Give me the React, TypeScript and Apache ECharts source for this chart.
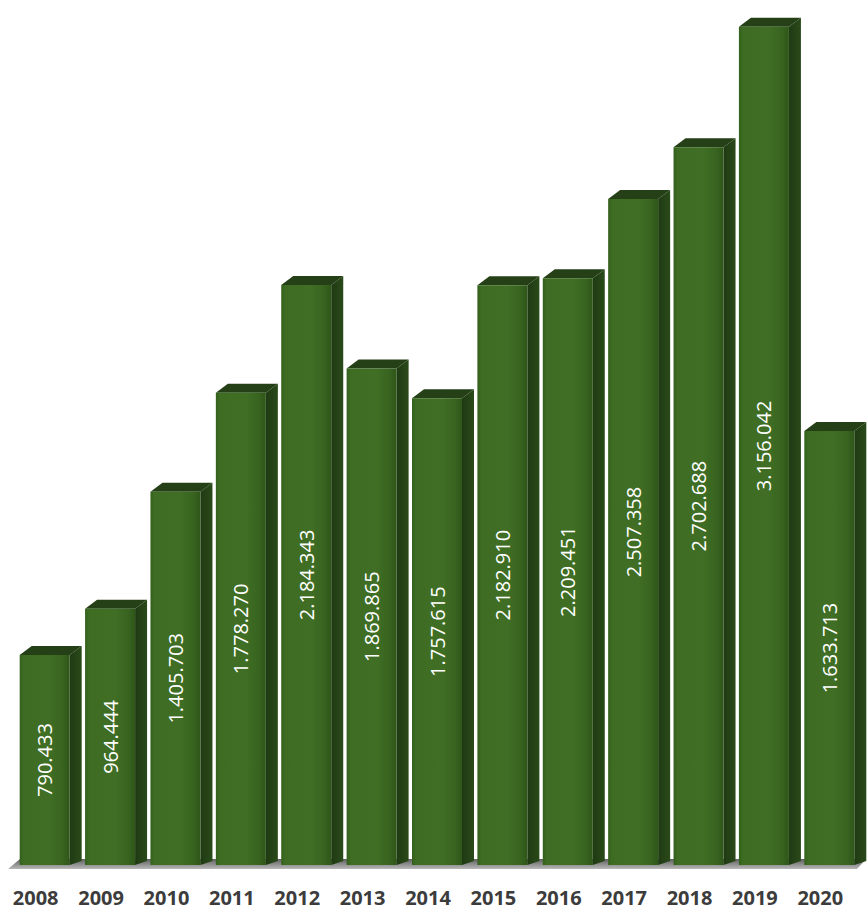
import React, { useEffect, useRef } from "react";
import * as echarts from "echarts";

const years = ["2008", "2009", "2010", "2011", "2012", "2013", "2014", "2015", "2016", "2017", "2018", "2019", "2020"];
const values = [790433, 964444, 1405703, 1778270, 2184343, 1869865, 1757615, 2182910, 2209451, 2507358, 2702688, 3156042, 1633713];

function fmt(v: number): string {
  const s = String(Math.round(v));
  let out = "";
  for (let i = 0; i < s.length; i++) {
    const fromEnd = s.length - i;
    out += s[i];
    if (fromEnd > 1 && (fromEnd - 1) % 3 === 0) out += ".";
  }
  return out;
}

export default function App() {
  const ref = useRef<HTMLDivElement>(null);
  useEffect(() => {
    if (!ref.current) return;
    const chart = echarts.init(ref.current, undefined, { renderer: "svg" });
    const frontW = 50;
    const dx = 12;
    const dy = 9;
    const renderItem = (params: any, api: any) => {
      const idx = api.value(0);
      const val = api.value(1);
      const c = api.coord([idx, val]);
      const b = api.coord([idx, 0]);
      const x0 = c[0] - 16;
      const top = c[1];
      const bottom = b[1];
      return {
        type: "group",
        children: [
          {
            type: "polygon",
            shape: {
              points: [
                [x0 + frontW, top],
                [x0 + frontW + dx, top - dy],
                [x0 + frontW + dx, bottom - 4],
                [x0 + frontW, bottom],
              ],
            },
            style: {
              fill: new echarts.graphic.LinearGradient(0, 0, 1, 0, [
                { offset: 0, color: "#1f3a13" },
                { offset: 1, color: "#2a4a1a" },
              ]),
            },
          },
          {
            type: "polygon",
            shape: {
              points: [
                [x0, top],
                [x0 + dx, top - dy],
                [x0 + frontW + dx, top - dy],
                [x0 + frontW, top],
              ],
            },
            style: { fill: "#253f17" },
          },
          {
            type: "rect",
            shape: { x: x0, y: top, width: frontW, height: bottom - top },
            style: {
              fill: new echarts.graphic.LinearGradient(0, 0, 1, 0, [
                { offset: 0, color: "#33601c" },
                { offset: 0.08, color: "#3d6c22" },
                { offset: 0.6, color: "#3f6e24" },
                { offset: 0.85, color: "#386420" },
                { offset: 1, color: "#2f5619" },
              ]),
            },
          },
          {
            type: "text",
            x: x0 + frontW / 2,
            y: (top + bottom) / 2,
            rotation: Math.PI / 2,
            style: {
              text: fmt(val),
              fill: "#ffffff",
              fontFamily: "Open Sans",
              fontSize: 20,
              align: "center",
              verticalAlign: "middle",
            },
          },
        ],
      };
    };
    chart.setOption({
      animation: false,
      backgroundColor: "#ffffff",
      grid: { left: 3, right: 14, top: 0, bottom: 49 },
      xAxis: {
        type: "category",
        data: years,
        axisLine: { show: false },
        axisTick: { show: false },
        axisLabel: {
          margin: 22,
          fontFamily: "Open Sans",
          fontWeight: "bold",
          fontSize: 20,
          color: "#3c3c3c",
        },
      },
      yAxis: {
        type: "value",
        min: 0,
        max: 3257000,
        show: false,
        splitLine: { show: false },
      },
      graphic: [
        {
          type: "polygon",
          z: 0,
          shape: { points: [[8, 869], [20, 859], [866, 859], [857, 869]] },
          style: {
            fill: new echarts.graphic.LinearGradient(0, 0, 0, 1, [
              { offset: 0, color: "#5f5f5f" },
              { offset: 1, color: "#b8b8b8" },
            ]),
          },
        },
      ],
      series: [
        {
          type: "custom",
          z: 5,
          renderItem,
          data: values.map((v, i) => [i, v]),
        },
      ],
    });
    return () => chart.dispose();
  }, []);
  return <div ref={ref} style={{ position: "fixed", left: 0, top: 0, width: 867, height: 914 }} />;
}
